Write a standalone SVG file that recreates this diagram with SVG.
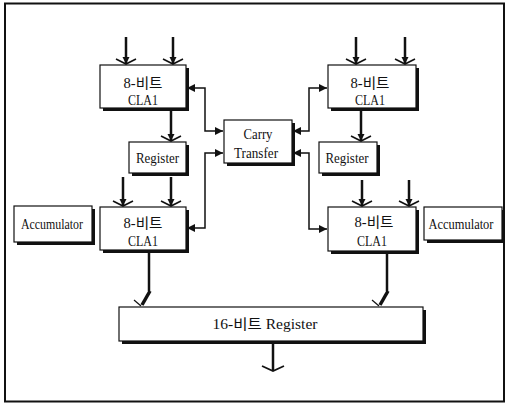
<svg xmlns="http://www.w3.org/2000/svg" width="508" height="407" viewBox="0 0 508 407">
<defs>
<style>
.sh{fill:#111}
.bx{fill:#fff;stroke:#111;stroke-width:1.2}
.t{font-family:"Liberation Serif","Noto Sans CJK KR",serif;font-size:14px;fill:#111;text-anchor:middle}
.ln{fill:none;stroke:#111;stroke-width:1.5}
.th{fill:none;stroke:#111;stroke-width:2.5}
</style>
<marker id="ah" viewBox="-10 -6 12 12" refX="0" refY="0" markerWidth="12" markerHeight="12" markerUnits="userSpaceOnUse" orient="auto-start-reverse">
<path d="M-8,-4 L0,0 L-8,4 z" fill="#111"/>
</marker>
<marker id="inp" viewBox="-12 -12 14 24" refX="0" refY="0" markerWidth="14" markerHeight="24" markerUnits="userSpaceOnUse" orient="auto">
<path d="M-5,-10 L0,0 L-5,10" fill="none" stroke="#111" stroke-width="1.6"/>
<path d="M-7,-3.5 L0,0 L-7,3.5 z" fill="#111"/>
</marker>
<marker id="chev" viewBox="-10 -12 12 24" refX="0" refY="0" markerWidth="12" markerHeight="24" markerUnits="userSpaceOnUse" orient="auto">
<path d="M-5,-11 L0,0 L-5,11" fill="none" stroke="#111" stroke-width="1.8"/>
</marker>
</defs>
<rect x="0" y="0" width="508" height="407" fill="#fff"/>
<rect x="5" y="3.5" width="499" height="398" fill="none" stroke="#111" stroke-width="2"/>

<g id="cla-tl">
<rect class="sh" x="103" y="68" width="86" height="43"/>
<rect class="bx" x="100" y="65" width="86" height="43"/>
<text class="t" x="143" y="88" textLength="39" lengthAdjust="spacingAndGlyphs">8-비트</text>
<text class="t" x="143" y="105" textLength="30" lengthAdjust="spacingAndGlyphs">CLA1</text>
</g>
<g id="reg-l">
<rect class="sh" x="132" y="145" width="57" height="31"/>
<rect class="bx" x="129" y="142" width="57" height="31"/>
<text class="t" x="157.5" y="163" textLength="43" lengthAdjust="spacingAndGlyphs">Register</text>
</g>
<g id="carry">
<rect class="sh" x="227" y="123" width="68" height="43"/>
<rect class="bx" x="224" y="120" width="68" height="43"/>
<text class="t" x="258" y="139" textLength="29" lengthAdjust="spacingAndGlyphs">Carry</text>
<text class="t" x="256" y="158" textLength="44" lengthAdjust="spacingAndGlyphs">Transfer</text>
</g>
<g id="cla-tr">
<rect class="sh" x="331" y="68" width="88" height="43"/>
<rect class="bx" x="328" y="65" width="88" height="43"/>
<text class="t" x="370" y="88" textLength="39" lengthAdjust="spacingAndGlyphs">8-비트</text>
<text class="t" x="370" y="105" textLength="30" lengthAdjust="spacingAndGlyphs">CLA1</text>
</g>
<g id="reg-r">
<rect class="sh" x="322" y="145" width="58" height="31"/>
<rect class="bx" x="319" y="142" width="58" height="31"/>
<text class="t" x="347" y="163" textLength="43" lengthAdjust="spacingAndGlyphs">Register</text>
</g>
<g id="acc-l">
<rect class="sh" x="17" y="209" width="78" height="36"/>
<rect class="bx" x="14" y="206" width="78" height="36"/>
<text class="t" x="52" y="229" textLength="62" lengthAdjust="spacingAndGlyphs">Accumulator</text>
</g>
<g id="cla-bl">
<rect class="sh" x="103" y="210" width="86" height="43"/>
<rect class="bx" x="100" y="207" width="86" height="43"/>
<text class="t" x="143" y="228" textLength="39" lengthAdjust="spacingAndGlyphs">8-비트</text>
<text class="t" x="143" y="246" textLength="30" lengthAdjust="spacingAndGlyphs">CLA1</text>
</g>
<g id="cla-br">
<rect class="sh" x="331" y="210" width="88" height="44"/>
<rect class="bx" x="328" y="207" width="88" height="44"/>
<text class="t" x="374" y="227" textLength="39" lengthAdjust="spacingAndGlyphs">8-비트</text>
<text class="t" x="372" y="246" textLength="30" lengthAdjust="spacingAndGlyphs">CLA1</text>
</g>
<g id="acc-r">
<rect class="sh" x="427" y="210" width="78" height="33"/>
<rect class="bx" x="424" y="207" width="78" height="33"/>
<text class="t" x="461" y="229" textLength="65" lengthAdjust="spacingAndGlyphs">Accumulator</text>
</g>
<g id="reg16">
<rect class="sh" x="122" y="310" width="304" height="34"/>
<rect class="bx" x="119" y="307" width="304" height="34"/>
<text class="t" x="265" y="329" textLength="105" lengthAdjust="spacingAndGlyphs">16-비트 Register</text>
</g>

<g id="connectors">
<path class="th" d="M126,37 V64" marker-end="url(#inp)"/>
<path class="th" d="M173,37 V64" marker-end="url(#inp)"/>
<path class="th" d="M356,37 V64" marker-end="url(#inp)"/>
<path class="th" d="M405,37 V64" marker-end="url(#inp)"/>
<path class="th" d="M171,108 V141" marker-end="url(#inp)"/>
<path class="th" d="M361,108 V141" marker-end="url(#inp)"/>
<path class="th" d="M123,177 V206" marker-end="url(#inp)"/>
<path class="th" d="M171,177 V206" marker-end="url(#inp)"/>
<path class="th" d="M362,180 V206" marker-end="url(#inp)"/>
<path class="th" d="M409,180 V206" marker-end="url(#inp)"/>
<path class="ln" d="M223,131 H205 V88 H187" marker-start="url(#ah)" marker-end="url(#ah)"/>
<path class="ln" d="M223,153 H205 V228 H187" marker-start="url(#ah)" marker-end="url(#ah)"/>
<path class="ln" d="M293,131 H309 V88 H327" marker-start="url(#ah)" marker-end="url(#ah)"/>
<path class="ln" d="M293,153 H309 V229 H327" marker-start="url(#ah)" marker-end="url(#ah)"/>
<path class="th" d="M149,250 V291"/>
<path d="M150,291 L142,305" stroke="#111" stroke-width="3.5" fill="none"/>
<path d="M134,300 L141,306" stroke="#111" stroke-width="1.2" fill="none"/>
<path class="th" d="M387,251 V291"/>
<path d="M388,291 L380,305" stroke="#111" stroke-width="3.5" fill="none"/>
<path d="M372,300 L379,306" stroke="#111" stroke-width="1.2" fill="none"/>
<path class="th" d="M273,343 V371" marker-end="url(#chev)"/>
</g>
</svg>
